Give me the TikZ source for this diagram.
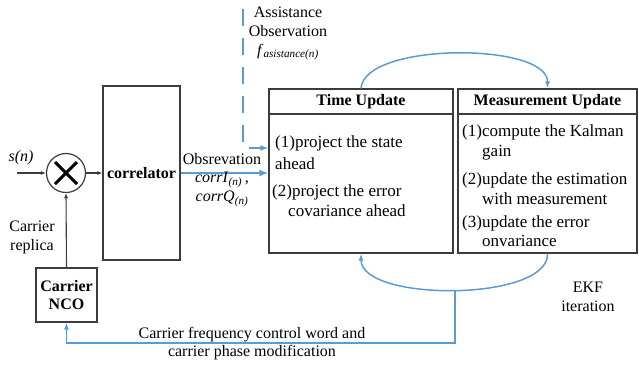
\documentclass[tikz,border=0pt]{standalone}
\usepackage{fontspec}
\setmainfont{Liberation Serif}
\usetikzlibrary{arrows.meta,calc}
\definecolor{eblue}{HTML}{5B9BD5}
\definecolor{eline}{HTML}{3C3C3C}
\begin{document}
\begin{tikzpicture}[x=1pt,y=-1pt,
  every node/.style={font=\fontsize{16}{19}\selectfont, inner sep=0pt},
  box/.style={draw=eline, line width=1.2pt, rectangle},
  bfnt/.style={font=\fontsize{16}{19}\selectfont\bfseries},
  txt/.style={align=left, anchor=north west, font=\fontsize{17}{19.5}\selectfont},
  blk/.style={draw=eline, line width=1.1pt, -{Latex[length=5pt,width=4pt]}},
  bl/.style={draw=eblue, line width=1.5pt, -{Latex[length=7pt,width=5pt]}},
  thickbl/.style={draw=eblue, line width=2.6pt, -{Latex[length=9pt,width=7pt]}},
  dsh/.style={draw=eblue, line width=2.2pt, dash pattern=on 17pt off 12pt, -{Latex[length=8pt,width=6pt]}},
]
\useasboundingbox (0,0) rectangle (639,367);

% boxes
\node[box, minimum width=184pt, minimum height=164pt] (TU) at (361,171) {};
\node[box, minimum width=179pt, minimum height=164pt] (MU) at (547.5,171) {};
\coordinate (hl) at (0,114);
\draw[eline, line width=1.2pt] (TU.west |- hl) -- (TU.east |- hl);
\draw[eline, line width=1.2pt] (MU.west |- hl) -- (MU.east |- hl);
\node[bfnt] (TUh) at (361,102) {Time Update};
\node[bfnt] (MUh) at (547.5,102) {Measurement Update};

\node[txt] (TU1) at (275,136) {(1)project the state\\[2pt]ahead};
\node[txt] (TU2) at (272,185) {(2)project the error\\\hspace*{16pt}covariance ahead};
\node[txt] (MU1) at (462,125) {(1)compute the Kalman\\\hspace*{20pt}gain};
\node[txt] (MU2) at (462,173) {(2)update the estimation\\\hspace*{20pt}with measurement};
\node[txt] (MU3) at (462,215) {(3)update the error\\\hspace*{20pt}onvariance};

% left part
\node[box, minimum width=77pt, minimum height=174pt, bfnt] (corr) at (141.5,173) {correlator};
\node[box, minimum width=61pt, minimum height=54pt, bfnt, align=center] (NCO) at (66.5,295) {Carrier\\[-1pt]NCO};
\node[draw=eline, circle, line width=1.2pt, minimum size=39pt] (mult) at (66,173) {};
\draw[black, line width=3pt] ($(mult.center)+(-11,-11)$) -- ($(mult.center)+(11,11)$);
\draw[black, line width=3pt] ($(mult.center)+(-11,11)$) -- ($(mult.center)+(11,-11)$);

\node (sn) at (21,158) {\textit{s(n)}};
\coordinate (in) at (17,173);
\draw[blk] (in) -- (mult.west);
\draw[blk] (mult.east) -- (corr.west);
\draw[blk] (NCO.north) -- (mult.south);
\node[align=center] (rep) at (32,237) {Carrier\\replica};

% observation
\draw[thickbl] (corr.east) -- (corr.east -| TU.west);
\node (obs) at (222,159) {Obsrevation};
\node (cI) at (222,180) {\textit{corrI}\textsubscript{\textit{(n)}}\,,};
\node (cQ) at (222,199) {\textit{corrQ}\textsubscript{\textit{(n)}}};

% assistance
\node[align=center] (asst) at (288,22) {Assistance\\Observation};
\node (fas) at (288,52) {\textit{f}\textsubscript{\textit{asistance(n)}}};
\coordinate (dtop) at (243,9);
\coordinate (dturn) at (0,148);
\draw[dsh] (dtop) |- (TU.west |- dturn);

% EKF loop
\draw[bl] (TU.north) .. controls (364,42) and (548,42) .. (MU.north);
\draw[bl] (MU.south) .. controls (549,302) and (361,302) .. (TU.south) coordinate[pos=0.5] (fb);
\node[align=center] (ekf) at (588,297) {EKF\\iteration};

% feedback
\coordinate (fbl) at (0,343);
\draw[bl] (fb) -- (fb |- fbl) -| (NCO.south);
\node[align=center] (fbt) at (252,344) {Carrier frequency control word and\\[-1pt]carrier phase modification};
\end{tikzpicture}
\end{document}
